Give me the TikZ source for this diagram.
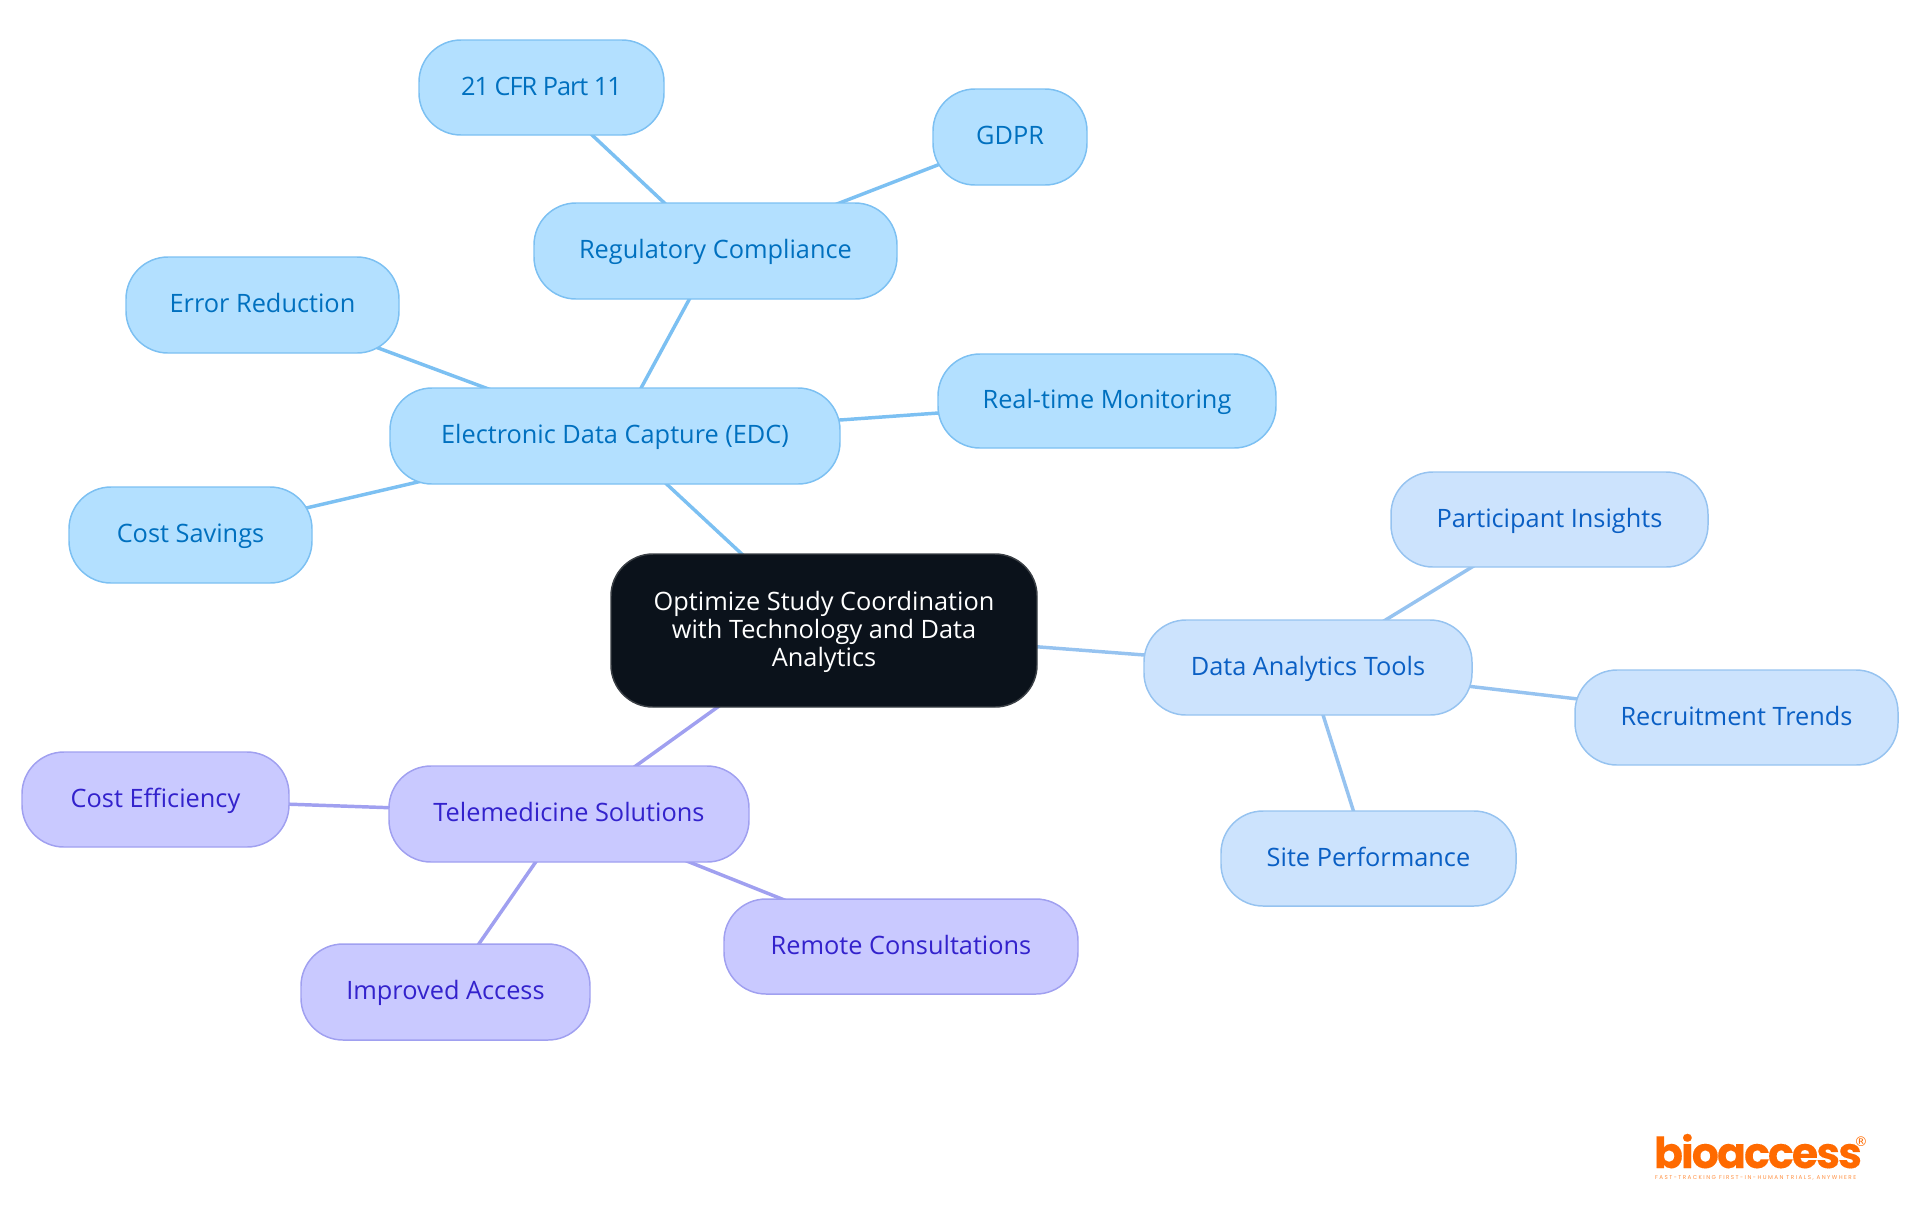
\documentclass[tikz,border=0pt]{standalone}
\usepackage{fontspec}
\setmainfont{Open Sans}
\newfontfamily\logofont[LetterSpace=-4.5,FakeBold=0.2]{Poppins}
\newfontfamily\tagfont[LetterSpace=26]{Poppins}
\newfontfamily\markfont{DejaVu Sans}
\usetikzlibrary{backgrounds}
\definecolor{skyfill}{HTML}{B3E0FF}
\definecolor{skyline}{HTML}{7CC0F2}
\definecolor{skytext}{HTML}{0070BF}
\definecolor{palefill}{HTML}{CCE3FD}
\definecolor{paleline}{HTML}{96C3F0}
\definecolor{paletext}{HTML}{0A5FC4}
\definecolor{lilacfill}{HTML}{C9C9FF}
\definecolor{lilacline}{HTML}{A0A0F0}
\definecolor{lilactext}{HTML}{3322CC}
\definecolor{rootfill}{HTML}{0B121B}
\definecolor{rootline}{HTML}{3A3F45}
\definecolor{logoorange}{HTML}{FF6A00}
\tikzset{
 x=0.75pt,y=-0.75pt,
 every node/.style={inner sep=0pt,outer sep=0pt},
 box/.style={rounded corners=31.5pt,line width=1.1pt,font=\fontsize{19}{21}\selectfont,align=center},
 single/.style={text height=15.5pt,text depth=4pt},
 sky/.style={box,single,draw=skyline,fill=skyfill,text=skytext},
 pale/.style={box,single,draw=paleline,fill=palefill,text=paletext},
 lilac/.style={box,single,draw=lilacline,fill=lilacfill,text=lilactext},
 root/.style={box,draw=rootline,fill=rootfill,text=white},
 skyedge/.style={draw=skyline,line width=2.6pt},
 paleedge/.style={draw=paleline,line width=2.6pt},
 lilacedge/.style={draw=lilacline,line width=2.6pt},
}
\newcommand{\mapnode}[7]{% style, name, x0, y0, x1, y1, text
 \node[#1,minimum width={(#5-#3)*0.75pt},minimum height={(#6-#4)*0.75pt}] (#2) at ({(#3+#5)/2},{(#4+#6)/2}) {#7};}
\begin{document}
\begin{tikzpicture}
\useasboundingbox (0,0) rectangle (1920,1215);
\mapnode{root}{center}{611}{554}{1037}{707}{\rule{0pt}{16.2pt}Optimize Study Coordination\\with Technology and Data\\Analytics}
\mapnode{sky}{cfr}{419}{40}{664}{135}{\addfontfeature{LetterSpace=-4}21 CFR Part 11}
\mapnode{sky}{gdpr}{933}{89}{1087}{185}{GDPR}
\mapnode{sky}{reg}{534}{203}{897}{299}{Regulatory Compliance}
\mapnode{sky}{err}{126}{257}{399}{353}{Error Reduction}
\mapnode{sky}{edc}{390}{388}{840}{484}{Electronic Data Capture (EDC)}
\mapnode{sky}{real}{938}{354}{1276}{448}{Real-time Monitoring}
\mapnode{sky}{sav}{69}{487}{312}{583}{Cost Savings}
\mapnode{pale}{part}{1391}{472}{1708}{567}{Participant Insights}
\mapnode{pale}{tools}{1144}{620}{1472}{715}{Data Analytics Tools}
\mapnode{pale}{recr}{1575}{670}{1898}{765}{Recruitment Trends}
\mapnode{pale}{site}{1221}{811}{1516}{906}{Site Performance}
\mapnode{lilac}{eff}{22}{752}{289}{847}{Cost Efficiency}
\mapnode{lilac}{tele}{389}{766}{749}{862}{Telemedicine Solutions}
\mapnode{lilac}{remote}{724}{899}{1078}{994}{Remote Consultations}
\mapnode{lilac}{impr}{301}{944}{590}{1040}{Improved Access}
\begin{scope}[on background layer]
\draw[skyedge] (center.center) -- (edc.center);
\draw[skyedge] (edc.center) -- (reg.center);
\draw[skyedge] (edc.center) -- (err.center);
\draw[skyedge] (edc.center) -- (real.center);
\draw[skyedge] (edc.center) -- (sav.center);
\draw[skyedge] (reg.center) -- (cfr.center);
\draw[skyedge] (reg.center) -- (gdpr.center);
\draw[paleedge] (center.center) -- (tools.center);
\draw[paleedge] (tools.center) -- (part.center);
\draw[paleedge] (tools.center) -- (recr.center);
\draw[paleedge] (tools.center) -- (site.center);
\draw[lilacedge] (center.center) -- (tele.center);
\draw[lilacedge] (tele.center) -- (eff.center);
\draw[lilacedge] (tele.center) -- (remote.center);
\draw[lilacedge] (tele.center) -- (impr.center);
\end{scope}
\node[anchor=base west,text=logoorange,font=\logofont\bfseries\fontsize{32}{32}\selectfont] (logo) at (1654,1168) {bioaccess};
\node[anchor=center,text=logoorange,font=\markfont\fontsize{10}{10}\selectfont] (regmark) at (1861,1142) {®};
\node[anchor=base west,text=logoorange!75,font=\tagfont\fontsize{4.2}{5}\selectfont] (tag) at (1655,1179) {FAST-TRACKING FIRST-IN-HUMAN TRIALS, ANYWHERE};
\end{tikzpicture}
\end{document}
